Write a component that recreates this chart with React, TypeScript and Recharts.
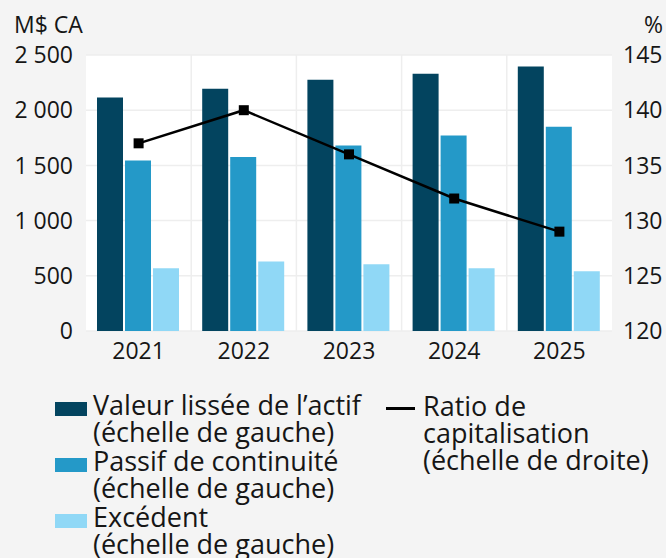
import React from 'react';
import { ComposedChart, Bar, Line, XAxis, YAxis, CartesianGrid } from 'recharts';

const years = ['2021', '2022', '2023', '2024', '2025'];
const smoothedAssets = [2115, 2195, 2275, 2330, 2395];
const goingConcern = [1545, 1575, 1680, 1770, 1850];
const surplus = [568, 630, 604, 568, 542];
const fundedRatio = [137, 140, 136, 132, 129];

const leftTicks = [0, 500, 1000, 1500, 2000, 2500];
const rightTicks = [120, 125, 130, 135, 140, 145];

const FONT = '"Open Sans", "Noto Sans", sans-serif';
const TEXT = '#161616';

const data = years.map((y, i) => ({
  year: y,
  actif: smoothedAssets[i],
  passif: goingConcern[i],
  excedent: surplus[i],
  ratio: fundedRatio[i],
}));

const barSeries = [
  { key: 'actif', color: '#03445f', label: ['Valeur lissée de l’actif', '(échelle de gauche)'] },
  { key: 'passif', color: '#2499c8', label: ['Passif de continuité', '(échelle de gauche)'] },
  { key: 'excedent', color: '#90d8f6', label: ['Excédent', '(échelle de gauche)'] },
];
const lineLabel = ['Ratio de', 'capitalisation', '(échelle de droite)'];

const fmt = (v: number) => String(v).replace(/\B(?=(\d{3})+(?!\d))/g, '\u00a0');

const SquareDot = (props: any) => {
  const { cx, cy } = props;
  if (cx == null || cy == null) return null;
  return <rect x={cx - 5} y={cy - 5} width={10} height={10} fill="#000" />;
};

const tickStyle = { fontSize: 23, fill: TEXT, fontFamily: FONT };

export default function App() {
  return (
    <div style={{ position: 'absolute', left: 0, top: 0, width: 666, height: 558, background: '#f4f4f4', fontFamily: FONT, color: TEXT, overflow: 'hidden' }}>
      <ComposedChart
        width={666}
        height={558}
        data={data}
        margin={{ top: 55, right: 0, bottom: 0, left: 0 }}
        barCategoryGap={11}
        barGap={2}
      >
        <CartesianGrid
          yAxisId="left"
          fill="#ffffff"
          stroke="#eeeeee"
          strokeWidth={1.5}
          verticalCoordinatesGenerator={({ offset }: any) =>
            years.slice(1).map((_, i) => offset.left + ((i + 1) * offset.width) / years.length)
          }
        />
        <XAxis
          dataKey="year"
          height={227}
          axisLine={false}
          tickLine={false}
          tickSize={0}
          tickMargin={12}
          tick={tickStyle}
        />
        <YAxis
          yAxisId="left"
          width={86}
          domain={[0, 2500]}
          ticks={leftTicks}
          tickFormatter={fmt}
          axisLine={false}
          tickLine={false}
          tickSize={0}
          tickMargin={13}
          tick={tickStyle}
          label={{
            content: () => (
              <text x={14} y={33} fontSize={23} fill={TEXT} fontFamily={FONT}>M$ CA</text>
            ),
          }}
        />
        <YAxis
          yAxisId="right"
          orientation="right"
          width={54}
          domain={[120, 145]}
          ticks={rightTicks}
          axisLine={false}
          tickLine={false}
          tickSize={0}
          tickMargin={11}
          tick={tickStyle}
          label={{
            content: () => (
              <text x={663} y={33} fontSize={23} fill={TEXT} fontFamily={FONT} textAnchor="end">%</text>
            ),
          }}
        />
        {barSeries.map((s) => (
          <Bar key={s.key} yAxisId="left" dataKey={s.key} fill={s.color} isAnimationActive={false} />
        ))}
        <Line
          yAxisId="right"
          dataKey="ratio"
          stroke="#000"
          strokeWidth={2.5}
          dot={<SquareDot />}
          activeDot={false}
          isAnimationActive={false}
        />
      </ComposedChart>
      <div style={{ position: 'absolute', left: 55, top: 391, fontSize: 27, lineHeight: '27px', whiteSpace: 'nowrap' }}>
        {barSeries.map((s) => (
          <div key={s.key} style={{ position: 'relative', paddingLeft: 38, marginBottom: 2 }}>
            <span style={{ position: 'absolute', left: 0, top: 11, width: 32, height: 14, background: s.color }} />
            {s.label.map((l) => (
              <div key={l}>{l}</div>
            ))}
          </div>
        ))}
      </div>
      <div style={{ position: 'absolute', left: 386, top: 392, fontSize: 27, lineHeight: '27px', whiteSpace: 'nowrap' }}>
        <div style={{ position: 'relative', paddingLeft: 37 }}>
          <span style={{ position: 'absolute', left: 0, top: 15, width: 29, height: 2.5, background: '#000' }} />
          {lineLabel.map((l) => (
            <div key={l}>{l}</div>
          ))}
        </div>
      </div>
    </div>
  );
}
